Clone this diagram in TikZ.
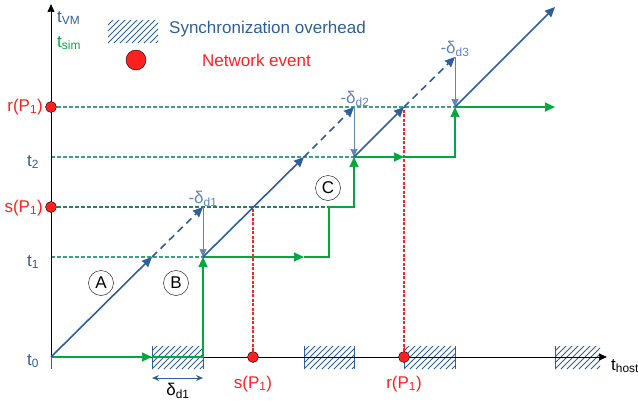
\documentclass[tikz,border=0pt]{standalone}
\usepackage{fontspec}
\setmainfont{Liberation Sans}
\usetikzlibrary{arrows.meta}
\definecolor{vmblue}{HTML}{2E5F99}
\definecolor{dblue}{HTML}{5F84BA}
\definecolor{simgreen}{HTML}{00A83E}
\definecolor{guidegreen}{HTML}{3FA07E}
\definecolor{darkguide}{HTML}{2F7A63}
\definecolor{evred}{HTML}{FF2020}

\begin{document}
\begin{tikzpicture}[x=1pt,y=-1pt,
    every node/.style={font=\fontsize{17}{20}\selectfont,inner sep=1pt},
    tip/.style={-{Stealth[length=10pt,width=9pt,inset=0.5pt]}},
    small tip/.style={-{Stealth[length=8pt,width=7pt,inset=0.5pt]}},
    vm/.style={draw=vmblue,line width=1.6pt,tip},
    delta/.style={draw=dblue,line width=1pt,small tip},
    sim/.style={draw=simgreen,line width=1.8pt,tip},
    guide/.style={draw=guidegreen,dash pattern=on 4pt off 2pt,line width=1.1pt},
    recv/.style={draw=evred,dash pattern=on 3pt off 1.5pt,line width=1.1pt},
    evdot/.style={circle,draw=black,fill=evred,inner sep=0pt,minimum size=11pt},
    hatchline/.style={draw=vmblue,line width=0.9pt},
    letter/.style={circle,draw,inner sep=0pt,minimum size=25pt}]
  \useasboundingbox (0,0) rectangle (638,402);

  % points on the time grid
  \coordinate (o)  at (51,357);
  \coordinate (yt) at (51,4);
  \coordinate (xt) at (607,357);
  \coordinate (p1) at (152,257);
  \coordinate (p2) at (203,207);
  \coordinate (q1) at (203,257);
  \coordinate (p3) at (304,157);
  \coordinate (p4) at (354,107);
  \coordinate (q2) at (354,157);
  \coordinate (p5) at (404,107);
  \coordinate (p6) at (455,57);
  \coordinate (q3) at (455,107);
  \coordinate (p7) at (555,7);
  \coordinate (c1) at (329,257);
  \coordinate (c2) at (329,207);

  % guide lines
  \coordinate (l2) at (51,157);
  \coordinate (l1) at (51,257);
  \draw[guide] (51,107) -- (q3);
  \draw[guide] (l2) -- (q2);
  \draw[guide,draw=darkguide] (51,207) -- (c2);
  \draw[guide] (l1) -- (q1);

  % hatched boxes (legend and overhead)
  \foreach \a/\b/\c/\d in {108/158/20/43,152/203/346/369,304/354/346/369,404/455/346/369,555/600/346/369}{
    \begin{scope}
      \clip (\a,\c) rectangle (\b,\d);
      \foreach \k in {0,6,...,84}
        \draw[hatchline] (\a-30+\k,\d) -- ++(30,-30);
    \end{scope}
  }
  \foreach \a in {51,152,203,304,354,404,455,555}
    \draw[vmblue,line width=1pt] (\a,346) -- (\a,369);

  % legend
  \node[vmblue,anchor=west] (sync) at (168,29) {Synchronization overhead};
  \node[evdot,minimum size=20pt] (ev) at (136,60) {};
  \node[evred,anchor=west] (net) at (201,60) {Network event};

  % axes
  \draw[line width=1pt,small tip] (o) -- (yt);
  \draw[line width=1pt,small tip] (o) -- (xt);

  % events
  \node[evdot] (sP) at (253,357) {};
  \node[evdot] (rP) at (404,357) {};
  \draw[recv] (sP) -- (sP |- p2);
  \draw[recv] (rP) -- (rP |- p5);
  \node[evdot] (rV) at (51,107) {};
  \node[evdot] (sV) at (51,207) {};

  % simulation time
  \draw[sim] (o) -- (o -| p1);
  \draw[sim] (o -| p1) -- (o -| q1) -- (q1);
  \draw[sim] (q1) -- (q1 -| p3);
  \draw[sim] (q1 -| p3) -- (c1) -- (c2) -- (c2 -| q2) -- (q2);
  \draw[sim] (q2) -- (q2 -| p5);
  \draw[sim] (q2 -| p5) -- (q2 -| q3) -- (q3);
  \draw[sim] (q3) -- (q3 -| p7);

  % VM time
  \draw[vm] (o) -- (p1);
  \draw[vm,dash pattern=on 7pt off 5pt] (p1) -- (p2);
  \draw[delta] (p2) -- (q1);
  \draw[vm] (q1) -- (p3);
  \draw[vm,dash pattern=on 7pt off 5pt] (p3) -- (p4);
  \draw[delta] (p4) -- (q2);
  \draw[vm] (q2) -- (p5);
  \draw[vm,dash pattern=on 7pt off 5pt] (p5) -- (p6);
  \draw[delta] (p6) -- (q3);
  \draw[vm] (q3) -- (p7);

  % delay marks
  \node[dblue] (d1) at (203,199) {-δ\textsubscript{d1}};
  \node[dblue] (d2) at (355,99) {-δ\textsubscript{d2}};
  \node[dblue] (d3) at (455,49) {-δ\textsubscript{d3}};
  \coordinate (w1) at (152,378);
  \coordinate (w2) at (203,378);
  \draw[vmblue,line width=1pt,{Stealth[length=7pt,width=6pt]}-{Stealth[length=7pt,width=6pt]}] (w1) -- (w2);
  \node (dd) at (178,391) {δ\textsubscript{d1}};

  % phases
  \node[letter] (A) at (101,283) {A};
  \node[letter] (B) at (176,283) {B};
  \node[letter] (C) at (328,188) {C};

  % axis labels
  \node[vmblue,anchor=west] (tvm) at (56,18) {t\textsubscript{VM}};
  \node[simgreen,anchor=west] (tsim) at (56,43) {t\textsubscript{sim}};
  \node[anchor=west] (thost) at (610,366) {t\textsubscript{host}};
  \node[vmblue] (t2) at (33,162) {t\textsubscript{2}};
  \node[vmblue] (t1) at (33,262) {t\textsubscript{1}};
  \node[vmblue] (t0) at (33,361) {t\textsubscript{0}};
  \node[evred,anchor=east] (rl) at (44,107) {r(P\textsubscript{1})};
  \node[evred,anchor=east] (sl) at (44,208) {s(P\textsubscript{1})};
  \node[evred] (sb) at (253,384) {s(P\textsubscript{1})};
  \node[evred] (rb) at (404,384) {r(P\textsubscript{1})};
\end{tikzpicture}
\end{document}
